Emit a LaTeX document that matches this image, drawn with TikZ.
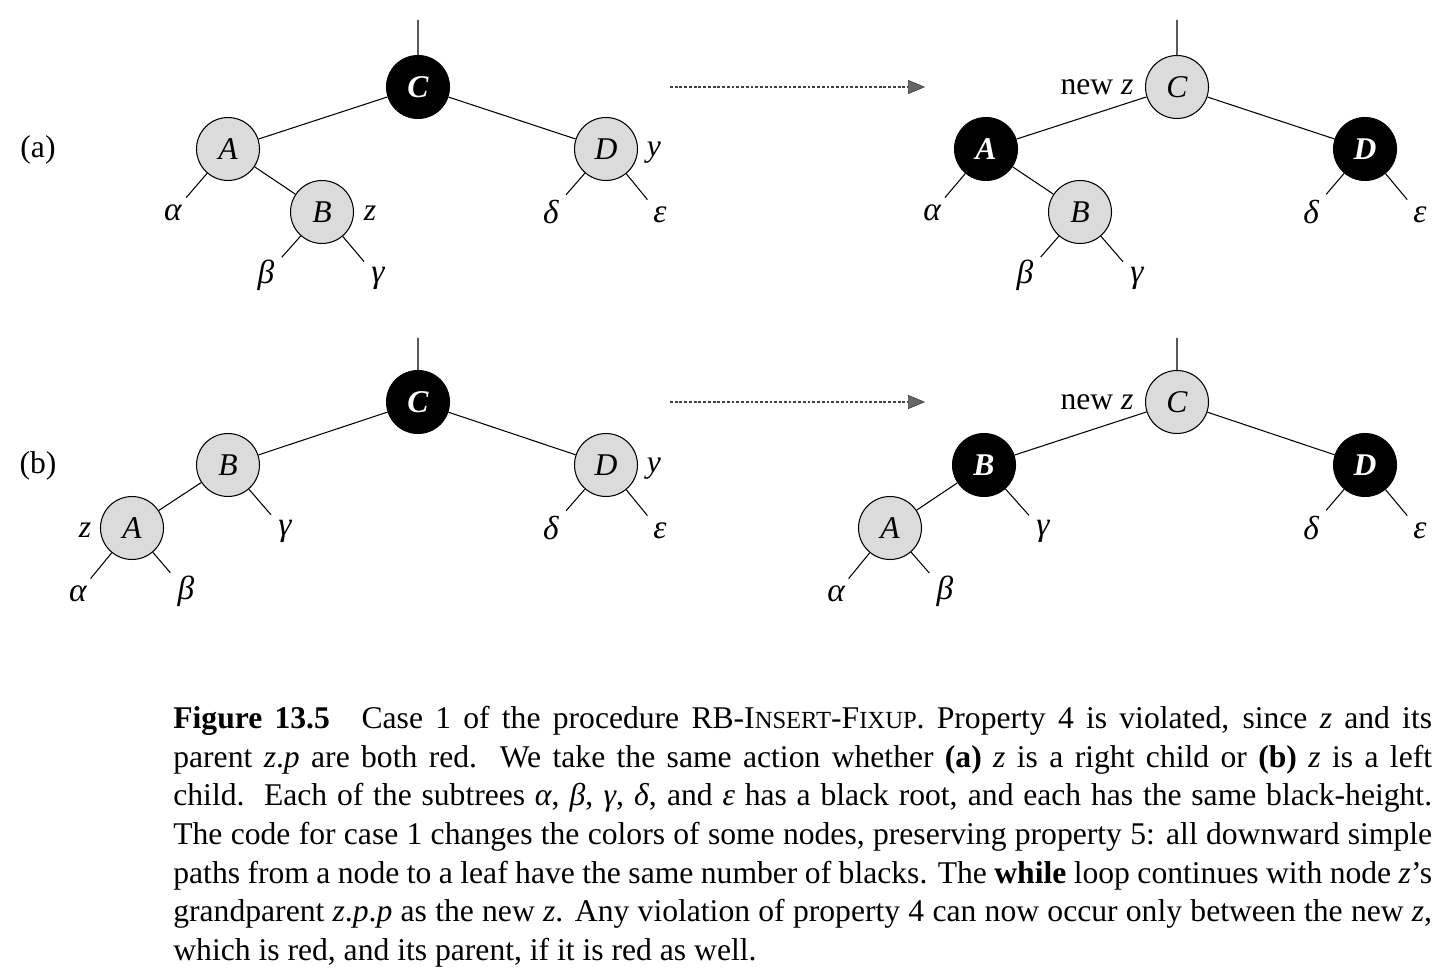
\documentclass[tikz,border=0pt]{standalone}
\usepackage{fontspec}
\setmainfont{Liberation Serif}
\usetikzlibrary{arrows.meta}

\newcommand{\smcap}[1]{{\fontsize{14}{12}\selectfont #1}}

\tikzset{
  redn/.style={circle, draw=black, line width=0.6pt, fill=black!14, minimum size=1.26cm, inner sep=0pt,
    font=\fontsize{18}{18}\selectfont\itshape},
  blackn/.style={circle, draw=black, line width=0.6pt, fill=black, text=white, minimum size=1.26cm, inner sep=0pt,
    font=\fontsize{18}{18}\selectfont\bfseries\itshape},
  leaf/.style={inner sep=4pt, font=\fontsize{19}{18}\selectfont\itshape},
  tag/.style={inner sep=1pt, font=\fontsize{18}{18}\selectfont},
  edge/.style={line width=0.6pt},
  casearrow/.style={line width=1.6pt, black!75, dash pattern=on 1.6pt off 1.1pt,
    -{Triangle[length=0.34cm, width=0.28cm, fill=black!60, line width=0.4pt]}},
  capt/.style={anchor=north west, inner sep=0pt, text width=25.18cm, align=justify,
    font=\fontsize{18}{22}\selectfont}
}

\begin{document}
\begin{tikzpicture}[x=0.02cm, y=-0.02cm]
\useasboundingbox (0,0) rectangle (1446,976);

% case labels
\node[tag] (casea) at (38,150) {(a)};
\node[tag] (caseb) at (38,466) {(b)};

% (a) before
\coordinate (laT) at (418,20);
\node[blackn] (laC) at (418,87) {C};
\node[redn] (laA) at (228,149) {A};
\node[redn] (laB) at (322,212) {B};
\node[redn] (laD) at (606,149) {D};
\node[tag] (laz) at (370,213) {\textit{z}};
\node[tag] (lay) at (654,153) {\textit{y}};
\node[leaf] (laal) at (173,213) {α};
\node[leaf] (labe) at (266,275) {β};
\node[leaf] (laga) at (378,278) {γ};
\node[leaf] (lade) at (551,212) {δ};
\node[leaf] (laep) at (660,215) {ε};
\draw[edge] (laT) -- (laC) (laC) -- (laA) (laC) -- (laD) (laA) -- (laB)
  (laA) -- (laal) (laB) -- (labe) (laB) -- (laga) (laD) -- (lade) (laD) -- (laep);

% (a) after
\coordinate (raT) at (1177,20);
\node[redn] (raC) at (1177,87) {C};
\node[blackn] (raA) at (986,149) {A};
\node[redn] (raB) at (1080,212) {B};
\node[blackn] (raD) at (1365,149) {D};
\node[tag] (ranew) at (1097,87) {new \textit{z}};
\node[leaf] (raal) at (932,213) {α};
\node[leaf] (rabe) at (1025,275) {β};
\node[leaf] (raga) at (1137,278) {γ};
\node[leaf] (rade) at (1311,212) {δ};
\node[leaf] (raep) at (1420,215) {ε};
\draw[edge] (raT) -- (raC) (raC) -- (raA) (raC) -- (raD) (raA) -- (raB)
  (raA) -- (raal) (raB) -- (rabe) (raB) -- (raga) (raD) -- (rade) (raD) -- (raep);

% (b) before
\coordinate (lbT) at (418,338);
\node[blackn] (lbC) at (418,402) {C};
\node[redn] (lbB) at (228,465) {B};
\node[redn] (lbA) at (132,528) {A};
\node[redn] (lbD) at (606,465) {D};
\node[tag] (lbz) at (85,530) {\textit{z}};
\node[tag] (lby) at (654,469) {\textit{y}};
\node[leaf] (lbal) at (78,594) {α};
\node[leaf] (lbbe) at (186,591) {β};
\node[leaf] (lbga) at (285,531) {γ};
\node[leaf] (lbde) at (551,528) {δ};
\node[leaf] (lbep) at (660,531) {ε};
\draw[edge] (lbT) -- (lbC) (lbC) -- (lbB) (lbC) -- (lbD) (lbB) -- (lbA)
  (lbA) -- (lbal) (lbA) -- (lbbe) (lbB) -- (lbga) (lbD) -- (lbde) (lbD) -- (lbep);

% (b) after
\coordinate (rbT) at (1177,338);
\node[redn] (rbC) at (1177,402) {C};
\node[blackn] (rbB) at (984,465) {B};
\node[redn] (rbA) at (890,528) {A};
\node[blackn] (rbD) at (1365,465) {D};
\node[tag] (rbnew) at (1097,402) {new \textit{z}};
\node[leaf] (rbal) at (836,594) {α};
\node[leaf] (rbbe) at (945,591) {β};
\node[leaf] (rbga) at (1043,531) {γ};
\node[leaf] (rbde) at (1311,528) {δ};
\node[leaf] (rbep) at (1420,531) {ε};
\draw[edge] (rbT) -- (rbC) (rbC) -- (rbB) (rbC) -- (rbD) (rbB) -- (rbA)
  (rbA) -- (rbal) (rbA) -- (rbbe) (rbB) -- (rbga) (rbD) -- (rbde) (rbD) -- (rbep);

% recolouring arrows
\coordinate (arra1) at (670,87);
\coordinate (arra2) at (925,87);
\coordinate (arrb1) at (670,402);
\coordinate (arrb2) at (925,402);
\draw[casearrow] (arra1) -- (arra2);
\draw[casearrow] (arrb1) -- (arrb2);

% caption
\node[capt] (caption) at (173,706) {\textbf{Figure 13.5}\quad Case 1 of the procedure RB-I\smcap{NSERT}-F\smcap{IXUP}. Property 4 is violated, since \textit{z} and its\linebreak
parent \textit{z}.\textit{p} are both red.\ \ We take the same action whether \textbf{(a)} \textit{z} is a right child or \textbf{(b)} \textit{z} is a left\linebreak
child.\ \ Each of the subtrees \textit{α}, \textit{β}, \textit{γ}, \textit{δ}, and \textit{ε} has a black root, and each has the same black-height.\linebreak
The code for case 1 changes the colors of some nodes, preserving property 5: all downward simple\linebreak
paths from a node to a leaf have the same number of blacks. The \textbf{while} loop continues with node \textit{z}'s\linebreak
grandparent \textit{z}.\textit{p}.\textit{p} as the new \textit{z}. Any violation of property 4 can now occur only between the new \textit{z},\linebreak
which is red, and its parent, if it is red as well.};

\end{tikzpicture}
\end{document}
